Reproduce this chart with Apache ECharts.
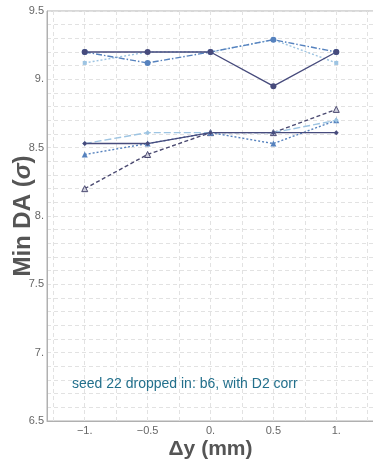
<!DOCTYPE html>
<html>
<head>
<meta charset="utf-8">
<script src="https://cdn.jsdelivr.net/npm/echarts@6/dist/echarts.min.js"></script>
<style>html,body{margin:0;padding:0;background:#fff;}#c{width:373px;height:461px;}</style>
</head>
<body>
<div id="c"></div>
<script>
const xs = [-1, -0.5, 0, 0.5, 1];
const upperSolid = [9.2, 9.2, 9.2, 8.95, 9.2];
const upperDashDot = [9.2, 9.12, 9.2, 9.29, 9.2];
const upperDotted = [9.12, 9.2, 9.2, 9.29, 9.12];
const lowerSolid = [8.53, 8.53, 8.61, 8.61, 8.61];
const lowerLongDash = [8.53, 8.61, 8.61, 8.61, 8.70];
const lowerDotted = [8.45, 8.53, 8.61, 8.53, 8.70];
const lowerDashed = [8.20, 8.45, 8.61, 8.61, 8.78];
const xTickLabels = {'-1': '\u22121.', '-0.5': '\u22120.5', '0': '0.', '0.5': '0.5', '1': '1.'};
const yTickLabels = {'6.5': '6.5', '7': '7.', '7.5': '7.5', '8': '8.', '8.5': '8.5', '9': '9.', '9.5': '9.5'};
const note = 'seed 22 dropped in: b6, with D2 corr';

const navy = '#474b7c', mid = '#5682be', light = '#9dc4e2', dark = '#4a4970';
function pairs(arr){ return xs.map((x,i)=>[x, arr[i]]); }
function mk(name, arr, color, type, symbol, size, fill){
  return {name, type:'line', data:pairs(arr), symbol, symbolSize:size,
    lineStyle:{color, width:1.4, type},
    itemStyle:{color: fill || color, borderColor: color, borderWidth: fill?1:0},
    emphasis:{disabled:true}, z: 3};
}
const chart = echarts.init(document.getElementById('c'), null, {renderer:'canvas'});
chart.setOption({
  animation:false,
  grid:{left:47, right:-1, top:11, bottom:40, show:true, borderColor:'#b0b0b0', borderWidth:1,
    containLabel:false, outerBoundsMode:'none'},
  xAxis:{type:'value', min:-1.3, max:1.3, interval:0.05,
    axisLine:{show:true, onZero:false, lineStyle:{color:'#b0b0b0'}}, axisTick:{show:false},
    splitLine:{show:true, lineStyle:{color:['rgba(0,0,0,0)','#e2e2e2','rgba(0,0,0,0)','rgba(0,0,0,0)','rgba(0,0,0,0)'], type:[4,3], width:1}},
    axisLabel:{color:'#666', fontSize:11, fontFamily:'Liberation Sans', margin:4,
      formatter:v=>{const k=String(Math.round(v*100)/100); return xTickLabels[k]||'';}},
    name:'\u0394y (mm)', nameLocation:'middle', nameGap:18, nameMoveOverlap:false,
    nameTextStyle:{color:'#555', fontSize:21, fontWeight:'bold', fontFamily:'Liberation Sans'}},
  yAxis:{type:'value', min:6.5, max:9.5, interval:0.1,
    axisLine:{show:true, onZero:false, lineStyle:{color:'#b0b0b0'}}, axisTick:{show:false},
    splitLine:{show:true, lineStyle:{color:'#e2e2e2', type:[4,3], width:1}},
    axisLabel:{color:'#666', fontSize:11, fontFamily:'Liberation Sans', margin:3,
      formatter:v=>{const k=String(Math.round(v*10)/10); return yTickLabels[k]||'';}},
    name:'Min DA ({i|\u03c3})', nameLocation:'middle', nameGap:12, nameMoveOverlap:false,
    nameTextStyle:{color:'#555', fontSize:24, fontWeight:'bold', fontFamily:'Liberation Sans',
      rich:{i:{fontStyle:'italic', fontSize:24, fontWeight:'bold', color:'#555', fontFamily:'Liberation Sans'}}}},
  graphic:[{type:'text', left:72, top:377, z:10, style:{text:note, fill:'#23708c', fontSize:14, fontFamily:'Liberation Sans'}}],
  series:[
    mk('ld', lowerDashed, dark, [4,2.5], 'triangle', 6, '#cfcfdc'),
    mk('ldo', lowerDotted, mid, [2,2], 'triangle', 6),
    mk('lld', lowerLongDash, light, [7,3], 'diamond', 5),
    mk('ls', lowerSolid, navy, 'solid', 'diamond', 5),
    mk('udo', upperDotted, light, [2,2], 'rect', 4),
    mk('udd', upperDashDot, mid, [6,2,1.5,2], 'circle', 6),
    mk('us', upperSolid, navy, 'solid', 'circle', 6)
  ]
});
</script>
</body>
</html>
